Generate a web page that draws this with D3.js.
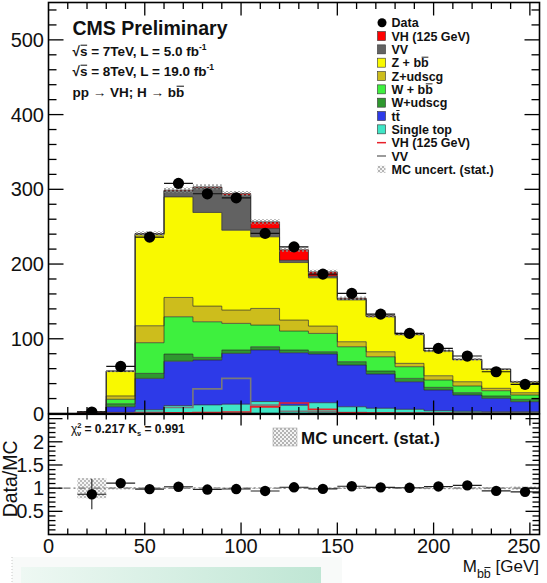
<!DOCTYPE html>
<html>
<head>
<meta charset="utf-8">
<script src="https://cdn.jsdelivr.net/npm/d3@7"></script>
<style>
  html, body { margin: 0; padding: 0; background: #fff; }
  svg { display: block; font-family: "Liberation Sans", Arial, Helvetica, sans-serif; }
</style>
</head>
<body>
<svg id="chart" width="547" height="583"></svg>
<script>
// M_bb bins: lower edges in GeV, all 15 GeV wide
const binLow = [15, 30, 45, 60, 75, 90, 105, 120, 135, 150, 165, 180, 195, 210, 225, 240];
const binWidth = 15;

// Expected events per bin for each background / signal sample (stacked bottom to top)
const singleTop = [0.1, 1.5, 5, 10.5, 11.5, 12.5, 16, 11, 14.4, 9, 7, 5.6, 3.7, 2.9, 2.4, 2.4];
const ttbar     = [1.4, 7.5, 42, 59.5, 60, 68, 69, 70.3, 65.1, 55.8, 45.8, 36.9, 27.7, 21.8, 17.9, 13.4];
const wUdscg    = [0.2, 4, 6.7, 9.5, 3.6, 4.4, 4.3, 3.6, 3.1, 4.5, 4, 4.5, 3.6, 3.1, 3.1, 3.2];
const wBB       = [0.2, 6, 41, 49.9, 47.6, 35.7, 29, 25.4, 24.6, 20, 19.1, 15.6, 9.8, 9, 7.1, 5.7];
const zUdscg    = [0.1, 4.5, 22.7, 25.9, 21, 17.8, 22.3, 14.7, 9.8, 6.7, 6.7, 4.5, 5.7, 5.7, 3.2, 3.1];
const zBB       = [0.2, 33, 121.6, 134.5, 125.3, 106.9, 95.8, 77, 64.5, 56, 46.9, 38.4, 33, 29.5, 25.3, 14.2];
const diboson   = [0.1, 0.3, 1.5, 8, 33, 47, 11.2, 3, 2.5, 1.2, 0.8, 0.6, 0.4, 0.4, 0.3, 0.3];
const vhSignal  = [0, 0, 0.3, 1, 1.2, 2, 8.8, 14, 5.5, 1, 0.5, 0.3, 0.2, 0.1, 0.1, 0.1];

// Statistical uncertainty of the simulation, events per bin
const mcStatErr = [0.5, 1.5, 3, 3.5, 3.5, 3.5, 3.5, 3, 3, 2.5, 2.5, 2, 2, 2, 1.5, 1.5];

// Observed data and its uncertainty
const dataCounts = [2, 63, 236, 308, 294, 288.5, 241, 223, 186.5, 160.7, 133, 107.2, 87.2, 76.9, 55.9, 39];
const dataErr    = [0.75, 2, 4, 4.5, 4.5, 4.5, 4, 4, 3.5, 3.5, 3, 3, 2.5, 2.5, 2, 2];

// Axis tick labels
const yMainLabels  = [0, 100, 200, 300, 400, 500];
const yRatioLabels = [0.5, 1, 1.5, 2];
const xLabels      = [0, 50, 100, 150, 200, 250];

// Sample names as they appear in the legend (order top to bottom)
const sampleKeys   = ["vh", "vv", "zbb", "zudscg", "wbb", "wudscg", "tt", "st"];
const sampleLabels = ["VH (125 GeV)", "VV", "Z + bb", "Z+udscg", "W + bb", "W+udscg", "tt", "Single top"];

// ------------------------------------------------------------------
const seriesByKey = {
  st: singleTop, tt: ttbar, wudscg: wUdscg, wbb: wBB,
  zudscg: zUdscg, zbb: zBB, vv: diboson, vh: vhSignal
};
const colors = {
  st: "#3fe6c6", tt: "#2d3ae8", wudscg: "#2f982f", wbb: "#3ef03e",
  zudscg: "#cdbd1c", zbb: "#f9f900", vv: "#626262", vh: "#ff0000"
};
const stackOrder = ["st", "tt", "wudscg", "wbb", "zudscg", "zbb", "vv", "vh"];

const rows = binLow.map((lo, i) => {
  const r = { lo };
  stackOrder.forEach(k => r[k] = seriesByKey[k][i]);
  return r;
});
const stacked = d3.stack().keys(stackOrder)(rows);
const mcTotal = rows.map(r => d3.sum(stackOrder, k => r[k]));

const svg = d3.select("#chart");
const W = 547, H = 583;
svg.append("rect").attr("width", W).attr("height", H).attr("fill", "#fff");

const frame = { left: 48.5, right: 539.5, top: 2.5, mainBottom: 413.5, ratioBottom: 534.5 };

const x = d3.scaleLinear().domain([0, 255]).range([frame.left, frame.right]);
const y = d3.scaleLinear().domain([0, 550]).range([frame.mainBottom, frame.top]);
const yr = d3.scaleLinear().domain([0, 2.6]).range([frame.ratioBottom, frame.mainBottom + 0.5]);

// patterns for MC uncertainty
const defs = svg.append("defs");
const hatch = defs.append("pattern").attr("id", "hatch").attr("patternUnits", "userSpaceOnUse")
  .attr("width", 4).attr("height", 4);
hatch.append("rect").attr("width", 2).attr("height", 2).attr("fill", "#8c8c8c").attr("opacity", 0.75);
hatch.append("rect").attr("x", 2).attr("y", 2).attr("width", 2).attr("height", 2).attr("fill", "#8c8c8c").attr("opacity", 0.75);
const hatchLight = defs.append("pattern").attr("id", "hatchLight").attr("patternUnits", "userSpaceOnUse")
  .attr("width", 4).attr("height", 4);
hatchLight.append("rect").attr("width", 4).attr("height", 4).attr("fill", "#f4f4f4");
hatchLight.append("rect").attr("width", 2).attr("height", 2).attr("fill", "#b4b4b4");
hatchLight.append("rect").attr("x", 2).attr("y", 2).attr("width", 2).attr("height", 2).attr("fill", "#b4b4b4");

defs.append("clipPath").attr("id", "clipMain").append("rect")
  .attr("x", frame.left).attr("y", frame.top)
  .attr("width", frame.right - frame.left).attr("height", frame.mainBottom - frame.top);
defs.append("clipPath").attr("id", "clipRatio").append("rect")
  .attr("x", frame.left).attr("y", frame.mainBottom)
  .attr("width", frame.right - frame.left).attr("height", frame.ratioBottom - frame.mainBottom);

const mint = defs.append("linearGradient").attr("id", "mint").attr("x1", 0).attr("x2", 1).attr("y1", 0).attr("y2", 0);
mint.append("stop").attr("offset", 0).attr("stop-color", "#eef8f3");
mint.append("stop").attr("offset", 1).attr("stop-color", "#bfe6d4");

// step helpers
function stepPoints(vals0, vals1) {
  const pts = binLow.map((lo, i) => ({ x: lo, y0: vals0[i], y1: vals1[i] }));
  const n = binLow.length - 1;
  pts.push({ x: binLow[n] + binWidth, y0: vals0[n], y1: vals1[n] });
  return pts;
}
const area = d3.area().x(d => x(d.x)).y0(d => y(d.y0)).y1(d => y(d.y1)).curve(d3.curveStepAfter);
const topLine = d3.line().x(d => x(d.x)).y(d => y(d.y1)).curve(d3.curveStepAfter);

const main = svg.append("g").attr("clip-path", "url(#clipMain)");

// stacked backgrounds
stacked.forEach(s => {
  const pts = stepPoints(s.map(d => d[0]), s.map(d => d[1]));
  main.append("path").attr("d", area(pts)).attr("fill", colors[s.key]);
});
stacked.forEach(s => {
  const pts = stepPoints(s.map(d => d[0]), s.map(d => d[1]));
  main.append("path").attr("d", topLine(pts)).attr("fill", "none")
    .attr("stroke", "#2a2a2a").attr("stroke-width", 0.9).attr("stroke-opacity", 0.75);
});
main.append("path").attr("d", area(stepPoints(mcTotal.map(() => 0), mcTotal)))
  .attr("fill", "none").attr("stroke", "#333").attr("stroke-width", 0.6).attr("stroke-opacity", 0.5);

// MC statistical uncertainty band
const bandPts = stepPoints(mcTotal.map((t, i) => t - mcStatErr[i]), mcTotal.map((t, i) => t + mcStatErr[i]));
main.append("path").attr("d", area(bandPts)).attr("fill", "url(#hatch)");

// unstacked signal / diboson outlines
function outline(vals) {
  const pts = [{ x: binLow[0], v: 0 }];
  binLow.forEach((lo, i) => pts.push({ x: lo, v: vals[i] }));
  const n = binLow.length - 1;
  pts.push({ x: binLow[n] + binWidth, v: vals[n] });
  return d3.line().x(d => x(d.x)).y(d => y(d.v)).curve(d3.curveStepAfter)(pts);
}
main.append("path").attr("d", outline(diboson)).attr("fill", "none")
  .attr("stroke", "#7a7a7a").attr("stroke-width", 1.6);
main.append("path").attr("d", outline(vhSignal)).attr("fill", "none")
  .attr("stroke", "#e8202a").attr("stroke-width", 1.6);

// data points
const dataG = main.append("g");
binLow.forEach((lo, i) => {
  const cx = x(lo + binWidth / 2), cy = y(dataCounts[i]);
  dataG.append("line").attr("x1", x(lo)).attr("x2", x(lo + binWidth)).attr("y1", cy).attr("y2", cy)
    .attr("stroke", "#111").attr("stroke-width", 1.1);
  dataG.append("line").attr("x1", cx).attr("x2", cx)
    .attr("y1", y(dataCounts[i] - dataErr[i])).attr("y2", y(dataCounts[i] + dataErr[i]))
    .attr("stroke", "#111").attr("stroke-width", 1.1);
  dataG.append("circle").attr("cx", cx).attr("cy", cy).attr("r", 5.6).attr("fill", "#000");
});

// ---------------- ratio panel ----------------
const ratio = dataCounts.map((d, i) => d / mcTotal[i]);
const ratioErr = dataErr.map((e, i) => e / mcTotal[i]);
const relMcErr = mcStatErr.map((e, i) => e / mcTotal[i]);

const rp = svg.append("g").attr("clip-path", "url(#clipRatio)");
const rArea = d3.area().x(d => x(d.x)).y0(d => yr(d.y0)).y1(d => yr(d.y1)).curve(d3.curveStepAfter);
rp.append("path").attr("d", rArea(stepPoints(relMcErr.map(e => 1 - e), relMcErr.map(e => 1 + e))))
  .attr("fill", "url(#hatchLight)").attr("opacity", 0.9);
rp.append("line").attr("x1", frame.left).attr("x2", frame.right).attr("y1", yr(1)).attr("y2", yr(1))
  .attr("stroke", "#777").attr("stroke-width", 1.2).attr("stroke-dasharray", "7,3,2,3");
binLow.forEach((lo, i) => {
  const cx = x(lo + binWidth / 2), cy = yr(ratio[i]);
  rp.append("line").attr("x1", x(lo)).attr("x2", x(lo + binWidth)).attr("y1", cy).attr("y2", cy)
    .attr("stroke", "#222").attr("stroke-width", 1.1);
  rp.append("line").attr("x1", cx).attr("x2", cx)
    .attr("y1", yr(ratio[i] - ratioErr[i])).attr("y2", yr(ratio[i] + ratioErr[i]))
    .attr("stroke", "#222").attr("stroke-width", 1.1);
  rp.append("circle").attr("cx", cx).attr("cy", cy).attr("r", 5.2).attr("fill", "#000");
});

// ---------------- frames and ticks ----------------
const axisG = svg.append("g").attr("stroke", "#000").attr("stroke-width", 1.3);
axisG.append("rect").attr("x", frame.left).attr("y", frame.top)
  .attr("width", frame.right - frame.left).attr("height", frame.mainBottom - frame.top).attr("fill", "none").attr("stroke-width", 1.6);
axisG.append("rect").attr("x", frame.left).attr("y", frame.mainBottom + 0.8)
  .attr("width", frame.right - frame.left).attr("height", frame.ratioBottom - frame.mainBottom - 0.8).attr("fill", "none").attr("stroke-width", 1.6);

function vTicks(scale, values, len) {
  values.forEach(v => {
    const yy = scale(v);
    axisG.append("line").attr("x1", frame.left).attr("x2", frame.left + len).attr("y1", yy).attr("y2", yy);
    axisG.append("line").attr("x1", frame.right - len).attr("x2", frame.right).attr("y1", yy).attr("y2", yy);
  });
}
function hTicks(values, yTop, yBot, len) {
  values.forEach(v => {
    const xx = x(v);
    axisG.append("line").attr("x1", xx).attr("x2", xx).attr("y1", yTop).attr("y2", yTop + len);
    axisG.append("line").attr("x1", xx).attr("x2", xx).attr("y1", yBot - len).attr("y2", yBot);
  });
}
const yMinor = d3.range(20, 550, 20).filter(v => v % 100 !== 0);
vTicks(y, d3.range(100, 550, 100), 15);
vTicks(y, yMinor, 8);
const xMinor = d3.range(10, 255, 10).filter(v => v % 50 !== 0);
const xMajor = d3.range(50, 255, 50);
hTicks(xMajor, frame.top, frame.mainBottom, 13);
hTicks(xMinor, frame.top, frame.mainBottom, 6.5);
hTicks(xMajor, frame.mainBottom, frame.ratioBottom, 12);
hTicks(xMinor, frame.mainBottom, frame.ratioBottom, 6);
vTicks(yr, [0.5, 1, 1.5, 2, 2.5], 14);
vTicks(yr, d3.range(0.1, 2.6, 0.1).filter(v => Math.abs(v * 2 - Math.round(v * 2)) > 0.01), 7);

// draws a bar over one character of a text element (anti-quark notation)
function overlineChar(textSel, index, fontSize, color) {
  const node = textSel.node();
  const n = node.getNumberOfChars();
  const i = Math.min(index, n - 1);
  const s = node.getStartPositionOfChar(i);
  const e = node.getEndPositionOfChar(i);
  const yy = s.y - fontSize * 0.8;
  node.parentNode.appendChild(
    d3.create("svg:line").attr("x1", s.x + 0.6).attr("x2", e.x - 0.3).attr("y1", yy).attr("y2", yy)
      .attr("stroke", color || "#111").attr("stroke-width", Math.max(0.9, fontSize * 0.075)).node());
}

// tick labels
const lab = svg.append("g").attr("fill", "#111").attr("font-size", 20);
yMainLabels.forEach(v => lab.append("text").attr("x", 44).attr("y", y(v) + 7).attr("text-anchor", "end").text(v));
yRatioLabels.forEach(v => lab.append("text").attr("x", 44).attr("y", yr(v) + 7).attr("text-anchor", "end").text(v));
xLabels.forEach(v => {
  const t = lab.append("text").attr("y", 553).attr("text-anchor", "middle").text(v);
  const w = t.node().getComputedTextLength();
  t.attr("x", Math.min(x(v), frame.right + 1 - w / 2));
});
lab.append("text").attr("transform", `translate(16.5,${yr(1.2)}) rotate(-90)`)
  .attr("text-anchor", "middle").attr("font-size", 19.5).text("Data/MC");

// x-axis title  M_{bb̄} [GeV]
const xt = lab.append("text").attr("x", 539).attr("y", 572).attr("text-anchor", "end").attr("font-size", 17);
xt.append("tspan").text("M");
xt.append("tspan").attr("font-size", 12.5).attr("dy", 5.5).text("bb");
xt.append("tspan").attr("dy", -5.5).text(" [GeV]");
overlineChar(xt, 2, 12.5);

// ---------------- annotations ----------------
const ann = svg.append("g").attr("fill", "#111").attr("font-weight", "bold");
ann.append("text").attr("x", 72.5).attr("y", 35).attr("font-size", 19.5).text("CMS Preliminary");

function energyLine(yy, sqrtS, lumi) {
  const t = ann.append("text").attr("x", 72.5).attr("y", yy).attr("font-size", 13.5);
  t.append("tspan").text("\u221As =  " + sqrtS + "TeV, L = " + lumi + " fb");
  t.append("tspan").attr("font-size", 8.5).attr("dy", -6).text("-1");
  overlineChar(t, 1, 13.5);
}
energyLine(56, "7", "5.0");
energyLine(76, "8", "19.0");
{
  const t = ann.append("text").attr("x", 72.5).attr("y", 97).attr("font-size", 13.5)
    .text("pp \u2192 VH; H \u2192 bb");
  overlineChar(t, t.node().getNumberOfChars() - 1, 13.5);
}

// goodness of fit text in ratio panel
{
  const t = ann.append("text").attr("x", 71).attr("y", 433).attr("font-size", 12);
  t.append("tspan").attr("font-weight", "normal").text("\u03C7");
  t.append("tspan").attr("font-size", 7.5).attr("dy", -5).text("2");
  t.append("tspan").attr("font-size", 7.5).attr("dx", -4.5).attr("dy", 8).text("\u03BD");
  t.append("tspan").attr("dy", -3).text(" = 0.217 K");
  t.append("tspan").attr("font-size", 7.5).attr("dy", 3).text("s");
  t.append("tspan").attr("dy", -3).text(" = 0.991");
}

// ratio legend
svg.append("rect").attr("x", 273).attr("y", 428).attr("width", 24).attr("height", 18)
  .attr("fill", "url(#hatchLight)").attr("stroke", "#aaa").attr("stroke-width", 0.6);
ann.append("text").attr("x", 301).attr("y", 443.5).attr("font-size", 17).text("MC uncert. (stat.)");

// ---------------- main legend ----------------
const leg = svg.append("g").attr("font-size", 12.5).attr("font-weight", "bold").attr("fill", "#111");
const legTop = 22.7, legStep = 13.33, legText = 391.5, legSym = 382;
const legendEntries = [{ type: "data", label: "Data" }]
  .concat(sampleKeys.map((k, i) => ({ type: "fill", key: k, label: sampleLabels[i] })))
  .concat([{ type: "line", key: "vh", label: "VH (125 GeV)" },
           { type: "line", key: "vv", label: "VV" },
           { type: "band", label: "MC uncert. (stat.)" }]);
legendEntries.forEach((e, i) => {
  const cy = legTop + i * legStep;
  if (e.type === "data") {
    leg.append("circle").attr("cx", legSym).attr("cy", cy).attr("r", 4.5).attr("fill", "#000");
  } else if (e.type === "fill") {
    leg.append("rect").attr("x", legSym - 4.5).attr("y", cy - 4.5).attr("width", 8).attr("height", 9)
      .attr("fill", colors[e.key]).attr("stroke", "#333").attr("stroke-width", 0.6);
  } else if (e.type === "line") {
    leg.append("line").attr("x1", legSym - 5).attr("x2", legSym + 4).attr("y1", cy).attr("y2", cy)
      .attr("stroke", e.key === "vh" ? "#e8202a" : "#7a7a7a").attr("stroke-width", 1.5);
  } else {
    leg.append("rect").attr("x", legSym - 4.5).attr("y", cy - 3.5).attr("width", 8).attr("height", 7)
      .attr("fill", "url(#hatchLight)");
  }
  const t = leg.append("text").attr("x", legText).attr("y", cy + 4.5).text(e.label);
  if (e.type === "fill" && (e.key === "zbb" || e.key === "wbb" || e.key === "tt")) {
    overlineChar(t, e.label.length - 1, 12.5);
  }
});

// ---------------- footer panel ----------------
svg.append("rect").attr("x", 12).attr("y", 557).attr("width", 330).attr("height", 26).attr("fill", "#f8faf9");
svg.append("line").attr("x1", 12).attr("x2", 12).attr("y1", 557).attr("y2", 583)
  .attr("stroke", "#c8c8c8").attr("stroke-dasharray", "1,2");
svg.append("rect").attr("x", 21).attr("y", 567).attr("width", 300).attr("height", 16).attr("fill", "url(#mint)");
</script>
</body>
</html>
